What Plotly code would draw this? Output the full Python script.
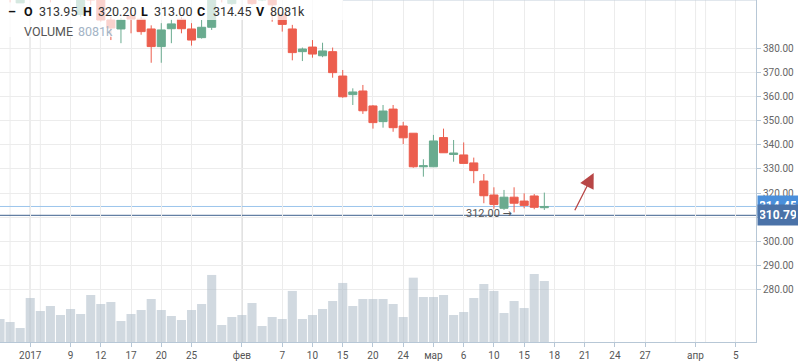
import plotly.graph_objects as go

# ---------------- data ----------------
dates = ['2016-12-28', '2016-12-29', '2016-12-30',
         '2017-01-03', '2017-01-04', '2017-01-05', '2017-01-06', '2017-01-09', '2017-01-10', '2017-01-11',
         '2017-01-12', '2017-01-13', '2017-01-16', '2017-01-17', '2017-01-18', '2017-01-19', '2017-01-20',
         '2017-01-23', '2017-01-24', '2017-01-25', '2017-01-26', '2017-01-27', '2017-01-30', '2017-01-31',
         '2017-02-01', '2017-02-02', '2017-02-03', '2017-02-06', '2017-02-07', '2017-02-08', '2017-02-09',
         '2017-02-10', '2017-02-13', '2017-02-14', '2017-02-15', '2017-02-16', '2017-02-17', '2017-02-20',
         '2017-02-21', '2017-02-22', '2017-02-24', '2017-02-27', '2017-02-28',
         '2017-03-01', '2017-03-02', '2017-03-03', '2017-03-06', '2017-03-07', '2017-03-09', '2017-03-10',
         '2017-03-13', '2017-03-14', '2017-03-15', '2017-03-16', '2017-03-17']

open_ = [405.0, 404.0, 398.8,
         403.0, 410.0, 407.0, 401.0, 405.0, 394.0, 405.0, 400.0, 391.7, 388.0, 393.4, 392.0, 388.0, 380.7,
         388.1, 392.0, 388.0, 384.4, 388.7, 406.0, 398.5,
         404.0, 407.0, 400.0, 403.0, 393.9, 388.0, 378.6, 380.5, 376.9, 378.6, 368.5, 360.8, 362.3, 356.1,
         349.6, 354.8, 347.8, 344.8, 330.9,
         330.9, 343.0, 336.0, 335.8, 332.5, 325.0, 319.2, 313.7, 318.3, 316.7, 318.8, 313.95]
high = [409.0, 406.0, 404.0,
        412.0, 413.0, 409.0, 406.0, 408.0, 404.0, 407.0, 401.0, 393.0, 392.5, 395.9, 393.0, 389.5, 390.4,
        391.9, 393.0, 390.4, 391.7, 404.0, 408.0, 406.0,
        409.0, 408.0, 405.0, 404.0, 395.5, 389.7, 380.3, 383.4, 382.3, 380.3, 371.0, 363.4, 364.8, 356.5,
        356.5, 356.5, 349.5, 344.8, 334.0,
        344.1, 346.7, 342.0, 341.0, 334.7, 327.9, 322.4, 321.3, 322.4, 319.9, 319.6, 320.20]
low = [402.0, 399.0, 398.8,
       401.0, 405.0, 399.0, 400.0, 401.0, 393.0, 398.0, 391.0, 383.4, 382.1, 386.2, 385.6, 374.0, 374.0,
       382.1, 386.2, 381.1, 384.0, 387.6, 399.0, 398.0,
       401.0, 398.0, 399.5, 391.0, 386.9, 375.0, 374.7, 376.1, 376.3, 367.8, 359.5, 356.5, 352.8, 346.7,
       347.1, 345.4, 340.3, 330.5, 326.8,
       330.9, 336.7, 333.0, 332.3, 324.1, 315.8, 313.5, 313.0, 312.0, 313.7, 313.3, 313.00]
close = [404.0, 400.5, 403.0,
         410.0, 407.0, 401.0, 405.0, 403.0, 403.0, 400.0, 391.7, 388.4, 391.7, 392.1, 386.9, 380.7, 387.6,
         390.1, 388.1, 383.4, 388.7, 402.0, 401.0, 404.0,
         407.0, 398.5, 403.0, 398.0, 389.9, 378.2, 379.7, 377.6, 378.9, 369.9, 359.9, 361.9, 354.1, 349.2,
         354.0, 347.1, 342.9, 330.9, 331.3,
         341.6, 336.7, 336.6, 332.3, 329.3, 318.9, 315.3, 318.3, 315.8, 314.9, 314.1, 314.45]
volume_k = [3050, 2650, 1855,
            5830, 4108, 4770, 3580, 4370, 3710, 6230, 5035, 5300, 2780, 3710, 4240, 5700, 4240,
            3445, 2915, 4240, 5035, 8880, 2250, 3310,
            3580, 5170, 2120, 3310, 3050, 6760, 3050, 3580, 4370, 5430, 7820, 4770, 5700, 5700,
            5700, 5035, 3310, 8520, 5960,
            5960, 6230, 3580, 3975, 5830, 7685, 6760, 3840, 5430, 4500, 9010, 8081]

# trading-day index (0 = first session of 2017)
x_idx = list(range(-3, len(dates) - 3))

tick_pos = [0, 4, 7, 10, 13, 16, 21, 25, 28, 31, 34, 37, 40, 43, 46, 49, 52, 55, 58, 61, 66, 70]
tick_text = ['2017', '9', '12', '17', '20', '25', 'фев', '7', '10', '15', '20', '24', 'мар',
             '6', '10', '15', '18', '21', '24', '27', 'апр', '5']
month_pos = [0, 21, 40, 66]
minor_grid_pos = [-2, 1, 64, 67]
price_ticks = [280, 290, 300, 310, 320, 330, 340, 350, 360, 370, 380]

last_price = 314.45
mark_price = 310.79
min_low_idx = 48
min_low = 312.00
arrow_from = (53.95, 312.3)
arrow_to = (55.9, 328.3)

# ---------------- styling ----------------
W, H = 798, 363
ML, MR, MT, MB = 0, 42, 0, 21
PW, PH = W - ML - MR, H - MT - MB
RED = '#ec5e4e'
GREEN = '#6aab8f'
AXIS = '#b7c7d6'
GRID = '#ececec'
FONT = 'Roboto, DejaVu Sans'

fig = go.Figure()

fig.add_trace(go.Bar(
    x=x_idx, y=volume_k, yaxis='y2', width=0.9,
    marker=dict(color='rgba(178,192,203,0.6)', line=dict(width=0)),
    hoverinfo='skip', showlegend=False))

fig.add_trace(go.Candlestick(
    x=x_idx, open=open_, high=high, low=low, close=close,
    increasing=dict(line=dict(color=GREEN, width=1), fillcolor=GREEN),
    decreasing=dict(line=dict(color=RED, width=1), fillcolor=RED),
    whiskerwidth=0, showlegend=False, hoverinfo='skip'))

shapes = []
for p in minor_grid_pos:
    shapes.append(dict(type='line', xref='x', yref='paper', x0=p, x1=p, y0=0, y1=1,
                       line=dict(color=GRID, width=1), layer='between'))
for p in month_pos:
    shapes.append(dict(type='line', xref='x', yref='paper', x0=p, x1=p, y0=0, y1=1,
                       line=dict(color='#b9b9b9', width=1), layer='between'))
shapes.append(dict(type='line', xref='paper', yref='y', x0=0, x1=1, y0=last_price, y1=last_price,
                   line=dict(color='#9cc5ec', width=1), layer='between'))
shapes.append(dict(type='line', xref='paper', yref='y', x0=0, x1=1, y0=mark_price, y1=mark_price,
                   line=dict(color='#3d5f8c', width=1), layer='between'))
shapes.append(dict(type='line', xref='paper', yref='paper', x0=343 / PW, x1=1, y0=1, y1=1,
                   line=dict(color='#c3d0dc', width=1), layer='above'))
# legend backgrounds
shapes.append(dict(type='rect', xref='paper', yref='paper', x0=0, x1=343 / PW, y0=1 - 20 / PH, y1=1,
                   fillcolor='rgba(255,255,255,0.72)', line=dict(width=0), layer='above'))
shapes.append(dict(type='rect', xref='paper', yref='paper', x0=0, x1=116 / PW, y0=1 - 37 / PH,
                   y1=1 - 20 / PH, fillcolor='rgba(255,255,255,0.72)', line=dict(width=0), layer='above'))

ann = []
row1 = [('<b>–</b>', 6, '#111'), ('<b>O</b>', 22, '#111'), ('313.95', 37, '#333'),
        ('<b>H</b>', 81, '#111'), ('320.20', 96, '#333'), ('<b>L</b>', 139, '#111'),
        ('313.00', 152, '#333'), ('<b>C</b>', 195, '#111'), ('314.45', 211, '#333'),
        ('<b>V</b>', 254, '#111'), ('8081k', 268, '#333')]
for txt, px, col in row1:
    ann.append(dict(text=txt, xref='paper', yref='paper', x=px / PW, y=1 - 11 / PH,
                    xanchor='left', yanchor='middle', showarrow=False,
                    font=dict(family=FONT, size=12.5, color=col)))
row2 = [('VOLUME', 22, '#555'), ('8081k', 76, '#a3b4c6')]
for txt, px, col in row2:
    ann.append(dict(text=txt, xref='paper', yref='paper', x=px / PW, y=1 - 31 / PH,
                    xanchor='left', yanchor='middle', showarrow=False,
                    font=dict(family=FONT, size=12.5, color=col)))

ann.append(dict(text='312.00 →', x=x_idx[min_low_idx + 3], y=min_low, xref='x', yref='y',
                xanchor='right', yanchor='middle', xshift=0, yshift=-1, showarrow=False,
                font=dict(family=FONT, size=11, color='#555')))
ann.append(dict(text='', x=arrow_to[0], y=arrow_to[1], ax=arrow_from[0], ay=arrow_from[1],
                xref='x', yref='y', axref='x', ayref='y', showarrow=True,
                arrowhead=2, arrowsize=2.3, arrowwidth=1.3, arrowcolor='#b84646'))

# right-axis price tags
ann.append(dict(text=f'<b>{last_price:.2f}</b>', xref='paper', yref='y', x=1, y=last_price,
                xanchor='left', yanchor='middle', xshift=0.5, showarrow=False,
                bgcolor='#4a8fdb', borderpad=2, width=36, height=16,
                font=dict(family=FONT, size=12, color='white')))
ann.append(dict(text=f'<b>{mark_price:.2f}</b>', xref='paper', yref='y', x=1, y=mark_price,
                xanchor='left', yanchor='middle', xshift=0.5, showarrow=False,
                bgcolor='#4a72a8', borderpad=2, width=36, height=16,
                font=dict(family=FONT, size=12, color='white')))

fig.update_layout(
    width=W, height=H, margin=dict(l=ML, r=MR, t=MT, b=MB),
    paper_bgcolor='white', plot_bgcolor='white',
    font=dict(family=FONT, size=10, color='#555'),
    showlegend=False, hovermode=False,
    boxgap=0.2, boxgroupgap=0,
    xaxis=dict(range=[-3.0, 72.0], tickvals=tick_pos, ticktext=tick_text,
               ticks='outside', ticklen=4, tickcolor=AXIS, showgrid=True, gridcolor=GRID,
               showline=True, linecolor=AXIS, linewidth=1, zeroline=False,
               tickfont=dict(family=FONT, size=10, color='#555'),
               rangeslider=dict(visible=False), fixedrange=True),
    yaxis=dict(range=[258.3, 400.0], side='right', tickvals=price_ticks,
               ticktext=[f'{v:.2f}' for v in price_ticks],
               ticks='outside', ticklen=4, tickcolor=AXIS, showgrid=True, gridcolor=GRID,
               showline=True, linecolor=AXIS, linewidth=1, zeroline=False,
               tickfont=dict(family=FONT, size=10, color='#666'), fixedrange=True),
    yaxis2=dict(overlaying='y', range=[0, 45300], visible=False, fixedrange=True),
    shapes=shapes, annotations=ann,
)

fig.write_html('out.html', config={'displayModeBar': False},
               post_script="document.body.style.margin='0';document.body.style.overflow='hidden';")
